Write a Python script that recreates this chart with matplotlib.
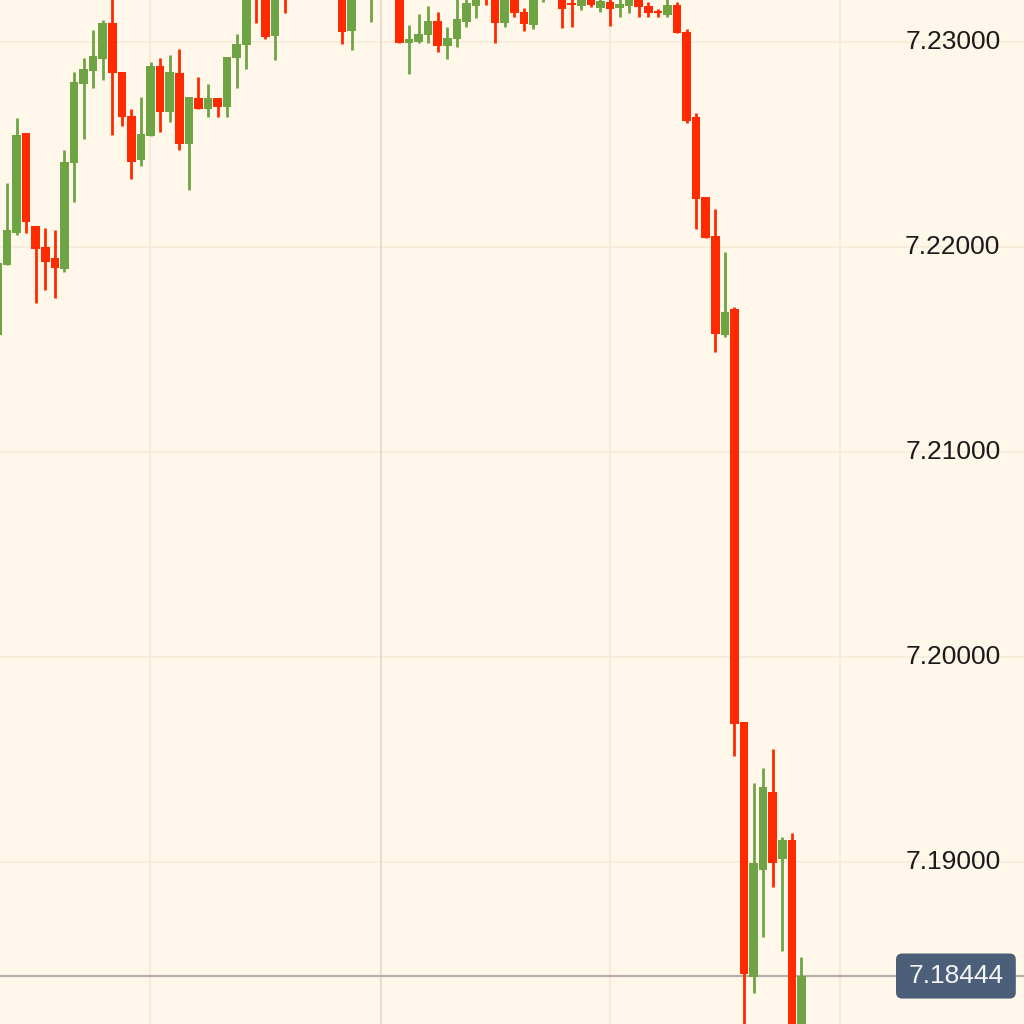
import numpy as np
import matplotlib
matplotlib.use("Agg")
import matplotlib.pyplot as plt
from matplotlib.patches import FancyBboxPatch

# candle index, open, high, low, close (prices)
idx = np.arange(85)
opens = [7.21571, 7.21912, 7.22068, 7.22556, 7.22103, 7.22000, 7.21946, 7.21893, 7.22410, 7.22795,
         7.22859, 7.22917, 7.23093, 7.22854, 7.22639, 7.22424, 7.22541, 7.22883, 7.22659, 7.22849,
         7.22502, 7.22727, 7.22673, 7.22727, 7.22683, 7.22922, 7.22985, 7.23351, 7.23278, 7.23029,
         7.23400, 7.23320, 7.23410, 7.23370, 7.23420, 7.23340, 7.23303, 7.23054, 7.23300, 7.23260,
         7.23350, 7.23300, 7.23303, 7.22995, 7.23000, 7.23034, 7.23103, 7.22981, 7.23015, 7.23098,
         7.23176, 7.23290, 7.23254, 7.23093, 7.23244, 7.23146, 7.23083, 7.23240, 7.23290, 7.23234,
         7.23190, 7.23176, 7.23225, 7.23166, 7.23195, 7.23166, 7.23176, 7.23220, 7.23176, 7.23146,
         7.23132, 7.23181, 7.23049, 7.22634, 7.22244, 7.22054, 7.21571, 7.21697, 7.19683, 7.18439,
         7.18961, 7.19341, 7.19015, 7.19107, 7.18141]
highs = [7.21946, 7.22312, 7.22629, 7.22556, 7.22103, 7.22093, 7.22083, 7.22473, 7.22854, 7.22922,
         7.23059, 7.23107, 7.23229, 7.22854, 7.22673, 7.22732, 7.22903, 7.22922, 7.22937, 7.22966,
         7.22732, 7.22829, 7.22795, 7.22727, 7.22927, 7.23039, 7.23303, 7.23376, 7.23303, 7.23278,
         7.23425, 7.23440, 7.23480, 7.23450, 7.23460, 7.23400, 7.23327, 7.23303, 7.23400, 7.23380,
         7.23420, 7.23380, 7.23327, 7.23083, 7.23137, 7.23176, 7.23146, 7.23073, 7.23229, 7.23254,
         7.23278, 7.23310, 7.23278, 7.23264, 7.23264, 7.23166, 7.23254, 7.23310, 7.23330, 7.23254,
         7.23229, 7.23244, 7.23244, 7.23220, 7.23215, 7.23215, 7.23234, 7.23234, 7.23195, 7.23161,
         7.23220, 7.23195, 7.23063, 7.22654, 7.22244, 7.22185, 7.21976, 7.21707, 7.19683, 7.19385,
         7.19458, 7.19551, 7.19122, 7.19141, 7.18537]
lows = [7.21546, 7.21912, 7.22059, 7.22068, 7.21727, 7.21790, 7.21751, 7.21878, 7.22220, 7.22527,
        7.22776, 7.22815, 7.22546, 7.22590, 7.22332, 7.22395, 7.22541, 7.22561, 7.22610, 7.22473,
        7.22278, 7.22673, 7.22634, 7.22634, 7.22634, 7.22776, 7.22868, 7.23093, 7.23015, 7.22912,
        7.23142, 7.23280, 7.23350, 7.23300, 7.23320, 7.23290, 7.22990, 7.22961, 7.23250, 7.23098,
        7.23280, 7.23240, 7.22995, 7.22844, 7.22995, 7.22995, 7.22951, 7.22917, 7.22976, 7.23073,
        7.23117, 7.23181, 7.22995, 7.23073, 7.23122, 7.23054, 7.23063, 7.23195, 7.23230, 7.23068,
        7.23073, 7.23156, 7.23171, 7.23146, 7.23078, 7.23122, 7.23142, 7.23122, 7.23122, 7.23122,
        7.23122, 7.23044, 7.22605, 7.22088, 7.22044, 7.21488, 7.21561, 7.19517, 7.18132, 7.18361,
        7.18634, 7.18878, 7.18566, 7.18083, 7.18107]
closes = [7.21922, 7.22083, 7.22546, 7.22122, 7.21990, 7.21927, 7.21898, 7.22414, 7.22805, 7.22868,
          7.22932, 7.23093, 7.22849, 7.22634, 7.22414, 7.22551, 7.22883, 7.22659, 7.22854, 7.22502,
          7.22732, 7.22673, 7.22727, 7.22683, 7.22927, 7.22990, 7.23254, 7.23254, 7.23024, 7.23254,
          7.23303, 7.23410, 7.23370, 7.23420, 7.23340, 7.23303, 7.23049, 7.23278, 7.23360, 7.23350,
          7.23300, 7.23340, 7.22995, 7.23015, 7.23039, 7.23103, 7.22981, 7.23020, 7.23112, 7.23190,
          7.23244, 7.23240, 7.23093, 7.23244, 7.23142, 7.23088, 7.23234, 7.23290, 7.23260, 7.23161,
          7.23181, 7.23225, 7.23181, 7.23200, 7.23161, 7.23185, 7.23220, 7.23171, 7.23142, 7.23142,
          7.23181, 7.23044, 7.22615, 7.22234, 7.22044, 7.21576, 7.21683, 7.19673, 7.18454, 7.18995,
          7.19366, 7.18995, 7.19107, 7.18132, 7.18444]

price_ticks = [7.23, 7.22, 7.21, 7.20, 7.19]
last_price = 7.18444
time_grid = [15.94, 40.07, 64.0, 88.0]

bg = '#fff7ea'
up_col = '#6fa444'
down_col = '#ff2a00'

opens = np.array(opens); closes = np.array(closes)
highs = np.array(highs); lows = np.array(lows)

fig = plt.figure(figsize=(10.24, 10.24), dpi=100, facecolor=bg)
ax = fig.add_axes([0, 0, 1, 1])
ax.set_facecolor(bg)
ax.set_xlim(0.268, 107.25)
ax.set_ylim(7.18210, 7.23205)
ax.axis('off')

# grid
for p in price_ticks:
    ax.axhline(p, color='#f7ebd9', lw=1.2, zorder=0)
for k, t in enumerate(time_grid):
    ax.axvline(t, color='#e6ddd0' if k == 1 else '#f6ebda', lw=1.4, zorder=0)

up = closes >= opens
cols = np.where(up, up_col, down_col)
ax.vlines(idx, lows, highs, colors=cols, lw=2.0, zorder=2)
body_lo = np.minimum(opens, closes)
body_h = np.maximum(np.abs(closes - opens), 0.00008)
ax.bar(idx, body_h, bottom=body_lo, width=0.9, color=cols, lw=0, zorder=3)

# current price line
ax.axhline(last_price, color='#b3b0ab', lw=1.6, zorder=1)

for p in price_ticks:
    ax.text(0.977, p, f'{p:.5f}', transform=ax.get_yaxis_transform(),
            ha='right', va='center', fontsize=19, family='Liberation Sans',
            color='#1a1a1a', zorder=5)

yf = (last_price - 7.18210) / (7.23205 - 7.18210)
box = FancyBboxPatch((0.875, yf - 0.022), 0.117, 0.044,
                     boxstyle='round,pad=0,rounding_size=0.006',
                     transform=ax.transAxes, fc='#4b5f79', ec='none', zorder=6)
ax.add_patch(box)
ax.text(0.9335, yf, f'{last_price:.5f}', transform=ax.transAxes,
        ha='center', va='center', fontsize=19, family='Liberation Sans',
        color='#f4f4f4', zorder=7)

fig.savefig('out.png', dpi=100, facecolor=bg)
